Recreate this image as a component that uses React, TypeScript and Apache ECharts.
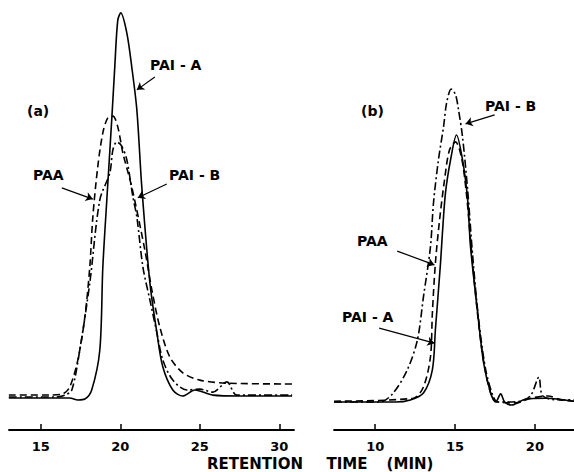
import React, { useEffect, useRef } from "react";
import * as echarts from "echarts";

// Panel (a): retention time (min) vs detector response (arbitrary units)
const aPAIA: [number, number][] = [
  [12.99, 7.44], [16.82, 7.44], [17.33, 6.98], [17.77, 7.2], [18.2, 9.3], [18.71, 18.6],
  [18.9, 37.9], [19.15, 53.5], [19.47, 72.8], [19.65, 84.4], [19.84, 95.3], [20.03, 97.0],
  [20.41, 92.3], [20.72, 84.4], [21.04, 74.4], [21.35, 56.5], [21.86, 34.2], [22.3, 22.6],
  [22.67, 14.7], [23.3, 9.3], [23.93, 7.9], [24.69, 9.3], [25.82, 8.1], [27.5, 7.9], [30.8, 7.9],
];
const aPAA: [number, number][] = [
  [12.99, 8.14], [15.57, 8.14], [16.38, 8.4], [16.82, 10.0], [17.33, 16.3], [17.77, 26.3],
  [18.08, 37.9], [18.27, 49.5], [18.58, 61.2], [18.9, 69.1], [19.21, 72.6], [19.53, 73.0],
  [19.84, 70.5], [20.16, 64.4], [20.72, 56.5], [21.54, 41.9], [21.98, 32.6], [22.48, 24.0],
  [23.11, 17.0], [23.93, 13.3], [25.0, 11.6], [26.7, 10.9], [30.8, 10.7],
];
const aPAIB: [number, number][] = [
  [12.99, 7.67], [15.88, 7.67], [16.51, 8.1], [16.95, 9.3], [17.45, 18.6], [18.08, 34.2],
  [18.71, 53.5], [19.34, 59.8], [19.53, 65.1], [19.78, 67.0], [20.09, 66.0], [20.41, 62.8],
  [20.79, 54.2], [21.04, 49.5], [21.42, 37.9], [21.86, 30.2], [22.3, 22.6], [22.67, 16.3],
  [23.3, 11.6], [24.18, 9.3], [25.0, 9.5], [25.82, 8.8], [26.7, 11.2], [27.33, 8.1], [30.8, 8.1],
];

// Panel (b)
const bPAIB: [number, number][] = [
  [7.42, 6.5], [10.3, 6.5], [11.13, 8.6], [12.01, 14.0], [12.64, 20.9], [13.02, 30.9],
  [13.46, 42.6], [13.65, 52.8], [13.96, 62.8], [14.28, 70.5], [14.47, 76.0], [14.76, 79.3],
  [15.03, 78.0], [15.22, 74.4], [15.47, 68.1], [15.79, 55.8], [16.1, 40.7], [16.48, 25.6],
  [16.92, 14.0], [17.36, 8.1], [17.67, 6.5], [19.12, 6.7], [19.75, 8.1], [20.25, 12.3],
  [20.5, 7.9], [21.64, 7.0], [22.45, 7.0],
];
const bPAIA: [number, number][] = [
  [7.42, 6.5], [11.26, 6.5], [12.2, 7.0], [13.02, 8.6], [13.58, 14.0], [13.77, 23.3],
  [14.09, 38.8], [14.21, 45.8], [14.4, 55.1], [14.72, 62.8], [15.09, 68.6], [15.47, 62.8],
  [15.79, 53.5], [15.97, 42.6], [16.42, 27.2], [16.79, 15.6], [17.23, 8.6], [17.55, 6.5],
  [17.86, 8.4], [18.11, 6.5], [18.55, 5.8], [19.43, 7.2], [20.69, 7.4], [22.45, 6.7],
];
const bPAA: [number, number][] = [
  [7.42, 6.7], [12.39, 7.4], [13.02, 10.0], [13.46, 17.0], [13.58, 27.2], [13.77, 38.8],
  [14.03, 48.8], [14.34, 58.1], [14.65, 65.1], [15.03, 67.0], [15.41, 63.3], [15.72, 54.7],
  [15.97, 44.2], [16.35, 29.1], [16.73, 17.4], [17.17, 9.3], [17.55, 6.7], [18.8, 6.3],
  [19.75, 7.4], [20.82, 7.9], [21.64, 7.0], [22.45, 6.7],
];

const aTicks = [15, 20, 25, 30];
const bTicks = [10, 15, 20];
const titleWords = ["RETENTION", "TIME", "(MIN)"];

// annotation arrows [from, to] in data coordinates
const aArrows: Record<string, [[number, number], [number, number]]> = {
  "PAI-A": [[22.17, 82.1], [21.04, 79.1]],
  PAA: [[16.32, 56.3], [18.27, 53.7]],
  "PAI-B": [[22.92, 57.2], [21.1, 54.0]],
};
const bArrows: Record<string, [[number, number], [number, number]]> = {
  "PAI-B": [[17.48, 73.3], [15.66, 71.2]],
  PAA: [[11.38, 41.6], [13.71, 38.4]],
  "PAI-A": [[10.25, 23.7], [13.71, 20.2]],
};

const FONT = "DejaVu Sans";

function arrowMark(arr: [[number, number], [number, number]]) {
  return {
    silent: true,
    symbol: ["none", "arrow"],
    symbolSize: 7,
    label: { show: false },
    lineStyle: { color: "#000", type: "solid", width: 1.2 },
    data: [[{ coord: arr[0] }, { coord: arr[1] }]],
  };
}

export default function App() {
  const ref = useRef<HTMLDivElement>(null);
  useEffect(() => {
    document.body.style.margin = "0";
    const chart = echarts.init(ref.current!, undefined, { renderer: "svg" });
    const xAxisBase = (min: number, max: number, ticks: number[], gridIndex: number) => ({
      type: "value" as const,
      gridIndex,
      min,
      max,
      axisLine: { show: true, lineStyle: { color: "#000", width: 1.8 } },
      axisTick: { show: true, inside: true, length: 6, lineStyle: { color: "#000", width: 1.5 }, customValues: ticks },
      axisLabel: {
        color: "#000",
        fontFamily: FONT,
        fontSize: 13,
        fontWeight: "bold",
        margin: 10,
        customValues: ticks,
      },
      splitLine: { show: false },
    });
    const lineSeries = (data: [number, number][], idx: number, type: any, mark: any) => ({
      type: "line",
      xAxisIndex: idx,
      yAxisIndex: idx,
      data,
      showSymbol: false,
      symbol: "none",
      smooth: 0.3,
      lineStyle: { color: "#000", width: 1.6, type },
      markLine: mark,
    });
    const dashed = [7, 4];
    const dashDot = [8, 3, 2, 3];
    const text = (t: string, x: number, y: number) => ({
      type: "text",
      left: x,
      top: y,
      style: { text: t, fill: "#000", font: `bold 14px "${FONT}"` },
    });
    const ctext = (t: string, x: number, y: number) => ({
      type: "text",
      x,
      y,
      style: {
        text: t,
        fill: "#000",
        font: `bold 15px "${FONT}"`,
        align: "center",
        verticalAlign: "middle",
      },
    });
    chart.setOption({
      animation: false,
      grid: [
        { left: 9, right: 280, top: 0, bottom: 42 },
        { left: 334, right: 0, top: 0, bottom: 42 },
      ],
      xAxis: [xAxisBase(13, 30.92, aTicks, 0), xAxisBase(7.42, 22.45, bTicks, 1)],
      yAxis: [
        { type: "value", gridIndex: 0, min: 0, max: 100, show: false },
        { type: "value", gridIndex: 1, min: 0, max: 100, show: false },
      ],
      series: [
        lineSeries(aPAIA, 0, "solid", arrowMark(aArrows["PAI-A"])),
        lineSeries(aPAA, 0, dashed, arrowMark(aArrows["PAA"])),
        lineSeries(aPAIB, 0, dashDot, arrowMark(aArrows["PAI-B"])),
        lineSeries(bPAIB, 1, dashDot, arrowMark(bArrows["PAI-B"])),
        lineSeries(bPAA, 1, dashed, arrowMark(bArrows["PAA"])),
        lineSeries(bPAIA, 1, "solid", arrowMark(bArrows["PAI-A"])),
      ],
      graphic: [
        text("(a)", 27, 104),
        text("(b)", 361, 104),
        text("PAI - A", 150, 58),
        text("PAA", 33, 168),
        text("PAI - B", 169, 168),
        text("PAI - B", 485, 99),
        text("PAA", 357, 234),
        text("PAI - A", 342, 310),
        ctext(titleWords[0], 255, 464),
        ctext(titleWords[1], 347, 464),
        ctext(titleWords[2], 410, 464),
      ],
    });
    return () => chart.dispose();
  }, []);
  return <div ref={ref} style={{ width: 574, height: 472 }} />;
}
